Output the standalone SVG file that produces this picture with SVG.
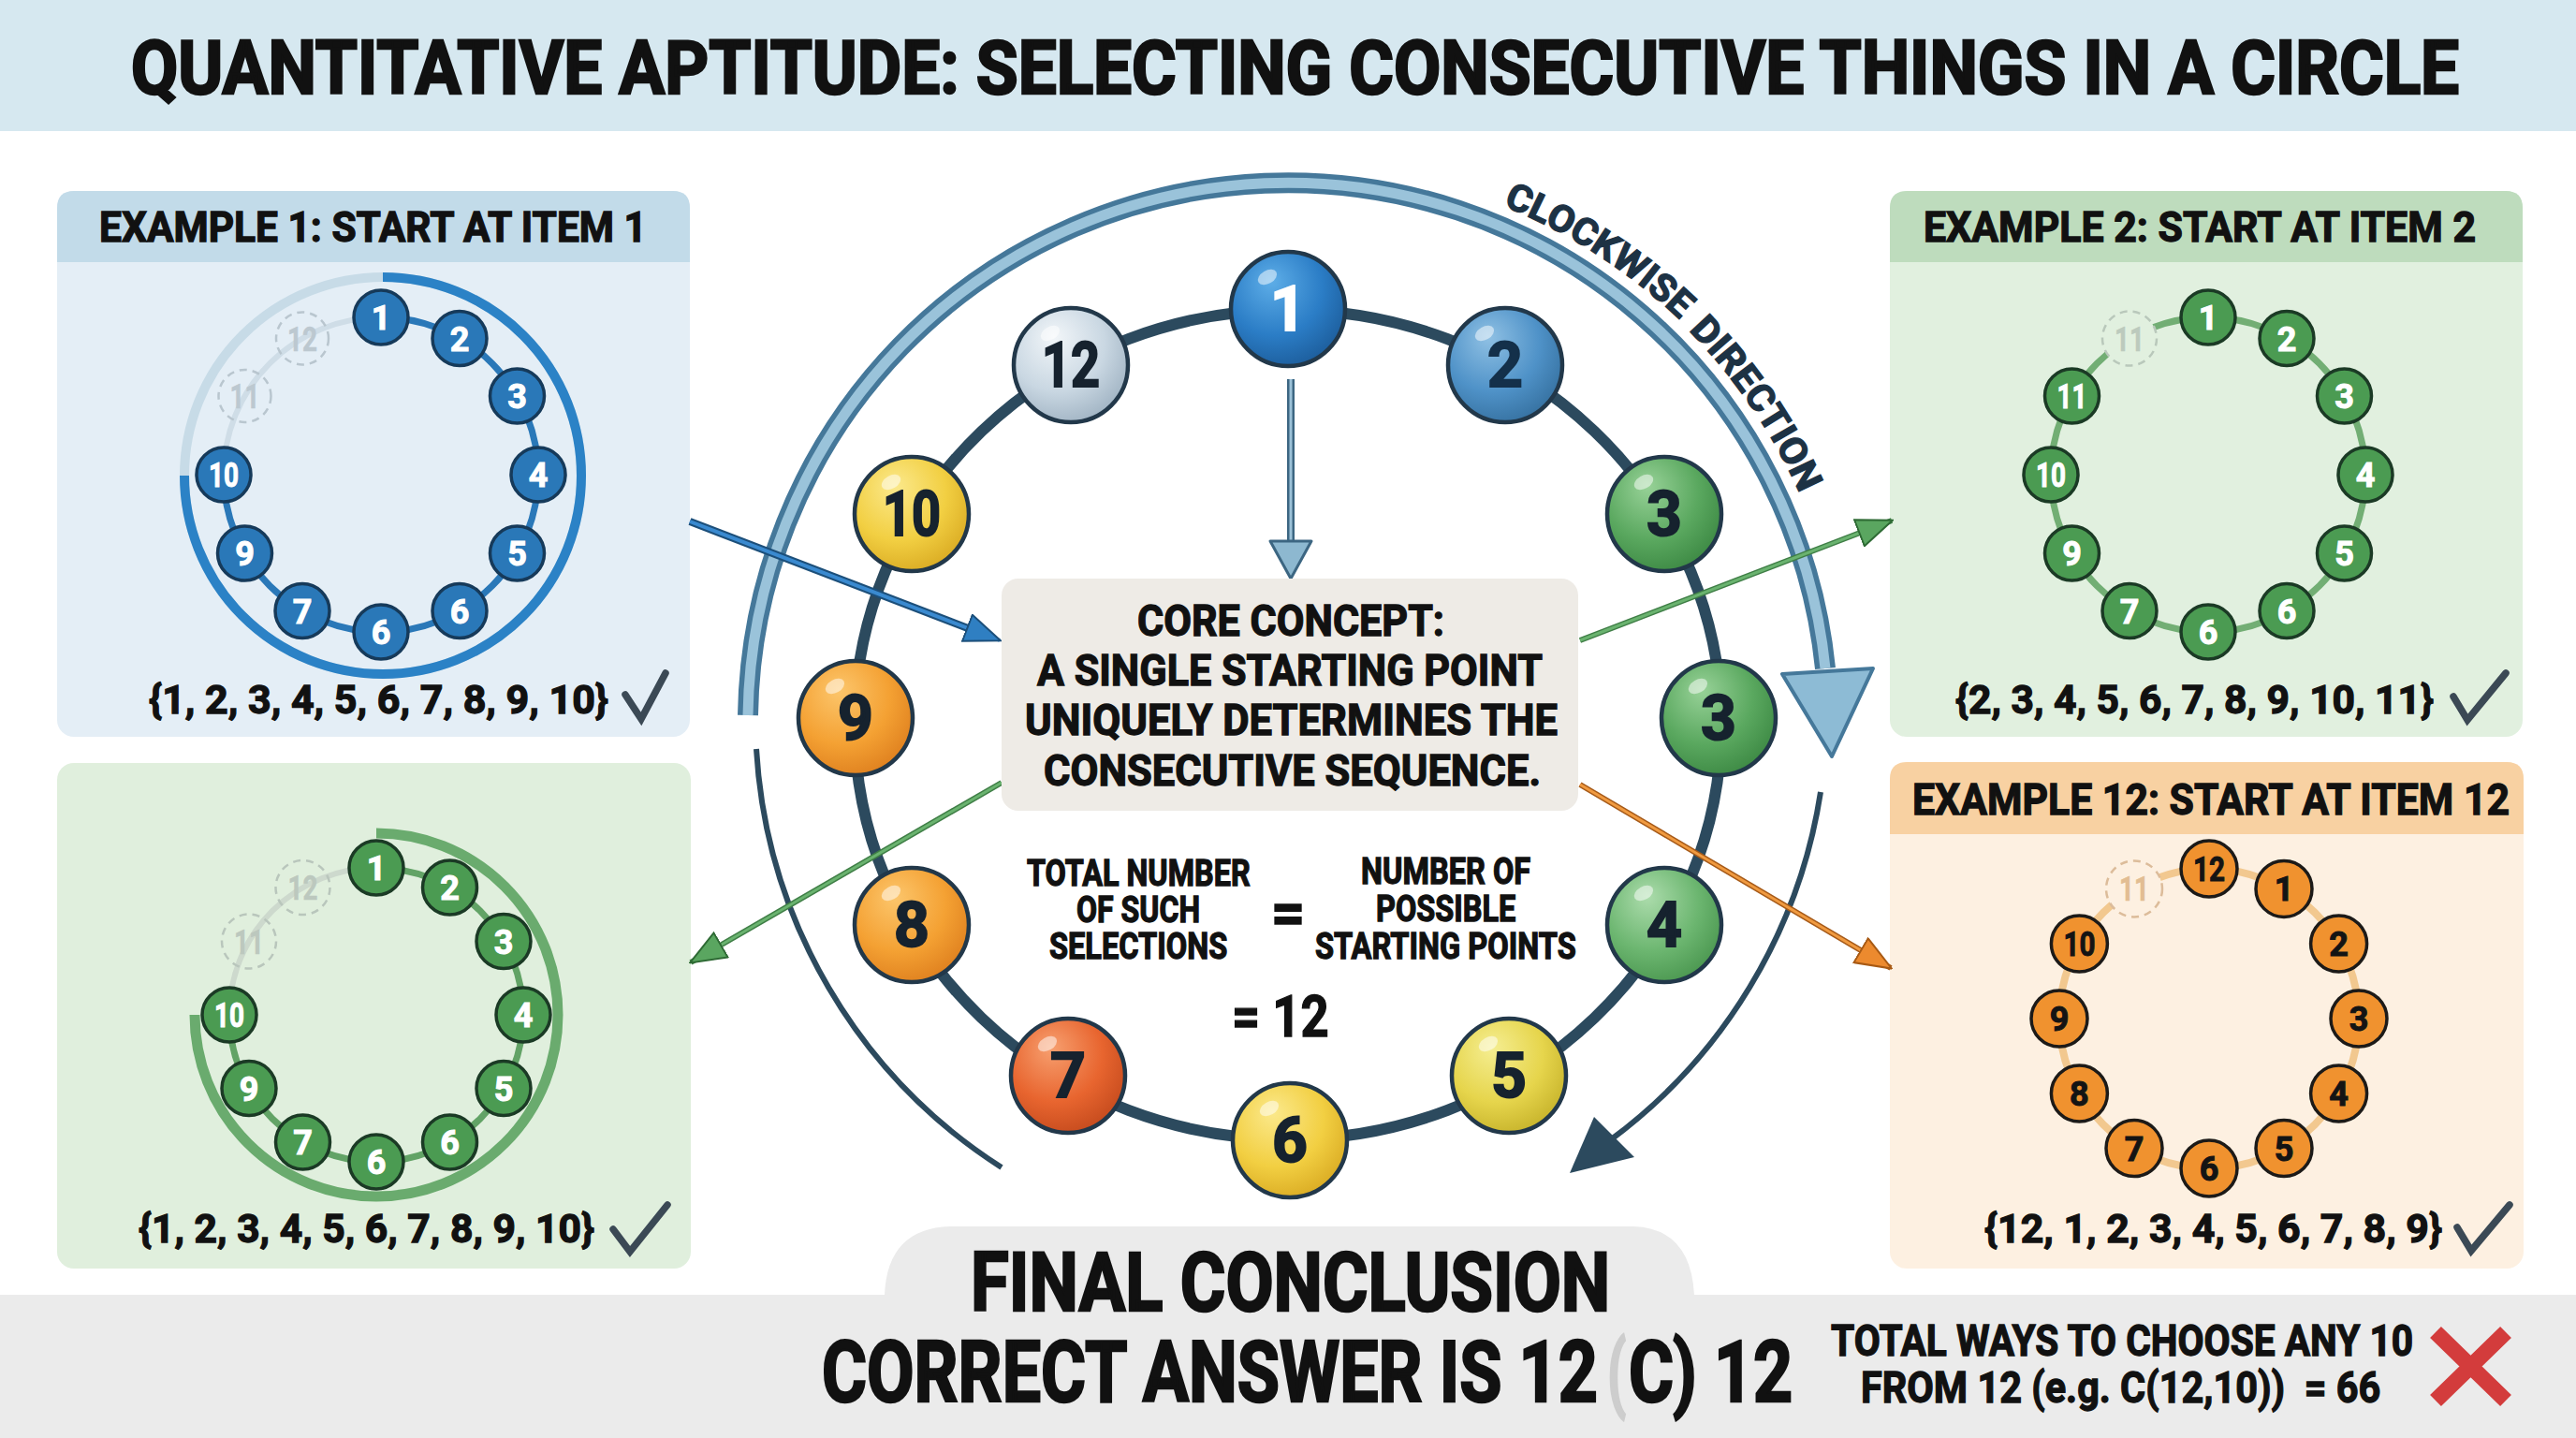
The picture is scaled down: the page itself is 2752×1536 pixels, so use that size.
<svg xmlns="http://www.w3.org/2000/svg" width="2752" height="1536" viewBox="0 0 2752 1536">
<style>
.t{font-family:Roboto,"Liberation Sans","DejaVu Sans",sans-serif;font-weight:700;color:#111;fill:currentColor;stroke:currentColor;stroke-width:1.3px}
.big{stroke-width:2.6px}
.num{font-family:Roboto,"Liberation Sans",sans-serif;font-weight:700;text-anchor:middle;fill:currentColor;stroke:currentColor;stroke-width:1px}
.cn circle.b{stroke:#22384a;stroke-width:4.5}
.cn text{font-size:66px;color:#16222e;stroke-width:2px}
.hl{fill:#fff;opacity:.5}
.mb circle{fill:#2a78b8;stroke:#163a5a;stroke-width:3.5}
.mb text{font-size:36px;color:#fff}
.mg circle{fill:#4b9b52;stroke:#1b3a25;stroke-width:3.5}
.mg text{font-size:36px;color:#fff}
.mo circle{fill:#f0922f;stroke:#1c1a18;stroke-width:3.5}
.mo text{font-size:36px;color:#141414}
.dash circle{fill:none;stroke-width:2.5;stroke-dasharray:8 6}
.dash text{font-size:36px;stroke-width:0.5px}
.chk{fill:none;stroke:#3b4955;stroke-width:7.5;stroke-linejoin:miter;stroke-linecap:round}
</style>
<defs>
<radialGradient id="gBlue1" cx="0.4" cy="0.35" r="0.7" fx="0.35" fy="0.25"><stop offset="0" stop-color="#5eaee8"/><stop offset="0.6" stop-color="#2b7dc6"/><stop offset="1" stop-color="#1c5c9a"/></radialGradient>
<radialGradient id="gBlue2" cx="0.4" cy="0.35" r="0.7" fx="0.35" fy="0.25"><stop offset="0" stop-color="#90c1e4"/><stop offset="0.6" stop-color="#4f92c8"/><stop offset="1" stop-color="#35709f"/></radialGradient>
<radialGradient id="gGray" cx="0.4" cy="0.35" r="0.7" fx="0.35" fy="0.25"><stop offset="0" stop-color="#f2f6f9"/><stop offset="0.6" stop-color="#c9d7e2"/><stop offset="1" stop-color="#9fb2c2"/></radialGradient>
<radialGradient id="gYel" cx="0.4" cy="0.35" r="0.7" fx="0.35" fy="0.25"><stop offset="0" stop-color="#fbe98c"/><stop offset="0.6" stop-color="#f2cf42"/><stop offset="1" stop-color="#d9aa22"/></radialGradient>
<radialGradient id="gYel5" cx="0.4" cy="0.35" r="0.7" fx="0.35" fy="0.25"><stop offset="0" stop-color="#f5ee92"/><stop offset="0.6" stop-color="#e6d54c"/><stop offset="1" stop-color="#c6b22a"/></radialGradient>
<radialGradient id="gOr" cx="0.4" cy="0.35" r="0.7" fx="0.35" fy="0.25"><stop offset="0" stop-color="#fcc66c"/><stop offset="0.6" stop-color="#f4a133"/><stop offset="1" stop-color="#de7f1e"/></radialGradient>
<radialGradient id="gRed" cx="0.4" cy="0.35" r="0.7" fx="0.35" fy="0.25"><stop offset="0" stop-color="#f7a070"/><stop offset="0.6" stop-color="#e8652f"/><stop offset="1" stop-color="#c44a1d"/></radialGradient>
<radialGradient id="gGrn" cx="0.4" cy="0.35" r="0.7" fx="0.35" fy="0.25"><stop offset="0" stop-color="#98d298"/><stop offset="0.6" stop-color="#5aa85f"/><stop offset="1" stop-color="#3c8843"/></radialGradient>
<radialGradient id="gGrn2" cx="0.4" cy="0.35" r="0.7" fx="0.35" fy="0.25"><stop offset="0" stop-color="#acdcac"/><stop offset="0.6" stop-color="#6cb670"/><stop offset="1" stop-color="#4a964f"/></radialGradient>
<marker id="mBlue" viewBox="0 0 40 32" refX="38" refY="16" markerWidth="40" markerHeight="32" markerUnits="userSpaceOnUse" orient="auto"><path d="M1,1 L39,16 L1,31 z" fill="#2f7fc2" stroke="#1c4f7a" stroke-width="2"/></marker>
<marker id="mGreen" viewBox="0 0 40 32" refX="38" refY="16" markerWidth="40" markerHeight="32" markerUnits="userSpaceOnUse" orient="auto"><path d="M1,1 L39,16 L1,31 z" fill="#5aa660" stroke="#2e6a34" stroke-width="2"/></marker>
<marker id="mOrange" viewBox="0 0 40 32" refX="38" refY="16" markerWidth="40" markerHeight="32" markerUnits="userSpaceOnUse" orient="auto"><path d="M1,1 L39,16 L1,31 z" fill="#ec8a2e" stroke="#a85a14" stroke-width="2"/></marker>
<path id="cwPath1" d="M1605.6,219.7 A600 600 0 0 1 1800,347"/>
<path id="cwPath2" d="M1804,353 A600 600 0 0 1 1924,530"/>
</defs>

<rect width="2752" height="1536" fill="#ffffff"/>

<!-- header -->
<g id="title">
<rect x="0" y="0" width="2752" height="140" fill="#d6e8f0"/>
<text class="t big" transform="translate(140,100) scale(0.85,1)" x="0" y="0" font-size="80" textLength="2926" lengthAdjust="spacingAndGlyphs">QUANTITATIVE APTITUDE: SELECTING CONSECUTIVE THINGS IN A CIRCLE</text>
</g>

<!-- bottom band -->
<g id="conclusion">
<path d="M0,1383 H945 Q948,1312 1015,1310 H1745 Q1806,1312 1810,1383 H2752 V1536 H0 Z" fill="#ebebeb"/>
<text class="t big" transform="translate(1037,1400) scale(0.8,1)" font-size="88" textLength="854" lengthAdjust="spacingAndGlyphs">FINAL CONCLUSION</text>
<text class="t big" transform="translate(878,1497) scale(0.8,1)" font-size="90" textLength="1036" lengthAdjust="spacingAndGlyphs">CORRECT ANSWER IS 12</text>
<text class="t big" transform="translate(1717,1497) scale(0.7,1)" font-size="90" textLength="29" lengthAdjust="spacingAndGlyphs" style="color:#cdcdcd">(</text>
<text class="t big" transform="translate(1740,1497) scale(0.8,1)" font-size="90" textLength="219" lengthAdjust="spacingAndGlyphs">C) 12</text>
</g>
<g id="wrong-method">
<text class="t" transform="translate(1956,1448) scale(0.85,1)" font-size="46" textLength="732" lengthAdjust="spacingAndGlyphs">TOTAL WAYS TO CHOOSE ANY 10</text>
<text class="t" transform="translate(1988,1498) scale(0.9,1)" font-size="46" textLength="617" lengthAdjust="spacingAndGlyphs">FROM 12 (e.g. C(12,10))&#160; = 66</text>
<path d="M2602,1423 L2677,1496 M2677,1423 L2602,1496" stroke="#d33c3c" stroke-width="17" stroke-linecap="butt"/>
</g>

<!-- Example 1 panel -->
<g id="example1">
<rect x="61" y="204" width="676" height="583" rx="18" fill="#e4eef6"/>
<path d="M61,280 V222 Q61,204 79,204 H719 Q737,204 737,222 V280 Z" fill="#c2dbe9"/>
<text class="t" x="106" y="258" font-size="44" textLength="585" lengthAdjust="spacingAndGlyphs">EXAMPLE 1: START AT ITEM 1</text>
<circle cx="409" cy="508" r="212" fill="none" stroke="#c7dbe7" stroke-width="10"/>
<path d="M409,296 A212 212 0 1 1 197,508" fill="none" stroke="#2b82c6" stroke-width="10"/>
<circle cx="407" cy="507" r="168" fill="none" stroke="#cfdde7" stroke-width="6"/>
<path d="M407,339 A168 168 0 1 1 239,507" fill="none" stroke="#2a78b8" stroke-width="7"/>
<g class="dash"><circle cx="261.5" cy="423" r="28" stroke="#b9c6cf"/><text class="num" x="261.5" y="436" style="color:#bcc8d0" textLength="32" lengthAdjust="spacingAndGlyphs">11</text></g>
<g class="dash"><circle cx="323" cy="361.5" r="28" stroke="#b9c6cf"/><text class="num" x="323" y="374.5" style="color:#bcc8d0" textLength="32" lengthAdjust="spacingAndGlyphs">12</text></g>
<g class="mb"><circle cx="407" cy="339" r="29"/><text class="num" x="407" y="352">1</text></g>
<g class="mb"><circle cx="491" cy="361.5" r="29"/><text class="num" x="491" y="374.5">2</text></g>
<g class="mb"><circle cx="552.5" cy="423" r="29"/><text class="num" x="552.5" y="436">3</text></g>
<g class="mb"><circle cx="575" cy="507" r="29"/><text class="num" x="575" y="520">4</text></g>
<g class="mb"><circle cx="552.5" cy="591" r="29"/><text class="num" x="552.5" y="604">5</text></g>
<g class="mb"><circle cx="491" cy="652.5" r="29"/><text class="num" x="491" y="665.5">6</text></g>
<g class="mb"><circle cx="407" cy="675" r="29"/><text class="num" x="407" y="688">6</text></g>
<g class="mb"><circle cx="323" cy="652.5" r="29"/><text class="num" x="323" y="665.5">7</text></g>
<g class="mb"><circle cx="261.5" cy="591" r="29"/><text class="num" x="261.5" y="604">9</text></g>
<g class="mb"><circle cx="239" cy="507" r="29"/><text class="num" x="239" y="520" textLength="32" lengthAdjust="spacingAndGlyphs">10</text></g>
<text class="t" x="159" y="762" font-size="43" textLength="491" lengthAdjust="spacingAndGlyphs">{1, 2, 3, 4, 5, 6, 7, 8, 9, 10}</text>
<path class="chk" d="M668,742 L685,768 L711,719"/>
</g>

<!-- Bottom-left green panel -->
<g id="example-left-bottom">
<rect x="61" y="815" width="677" height="540" rx="18" fill="#e0efdd"/>
<path d="M402,890 A194 194 0 1 1 208,1084" fill="none" stroke="#6aab6e" stroke-width="11"/>
<circle cx="402" cy="1084" r="157" fill="none" stroke="#cdd9cd" stroke-width="6"/>
<path d="M402,927 A157 157 0 1 1 245,1084" fill="none" stroke="#62a366" stroke-width="7"/>
<g class="dash"><circle cx="266" cy="1005.5" r="29" stroke="#b9c6bc"/><text class="num" x="266" y="1018.5" style="color:#bcc8be" textLength="32" lengthAdjust="spacingAndGlyphs">11</text></g>
<g class="dash"><circle cx="323.5" cy="948" r="29" stroke="#b9c6bc"/><text class="num" x="323.5" y="961" style="color:#bcc8be" textLength="32" lengthAdjust="spacingAndGlyphs">12</text></g>
<g class="mg"><circle cx="402" cy="927" r="29"/><text class="num" x="402" y="940">1</text></g>
<g class="mg"><circle cx="480.5" cy="948" r="29"/><text class="num" x="480.5" y="961">2</text></g>
<g class="mg"><circle cx="538" cy="1005.5" r="29"/><text class="num" x="538" y="1018.5">3</text></g>
<g class="mg"><circle cx="559" cy="1084" r="29"/><text class="num" x="559" y="1097">4</text></g>
<g class="mg"><circle cx="538" cy="1162.5" r="29"/><text class="num" x="538" y="1175.5">5</text></g>
<g class="mg"><circle cx="480.5" cy="1220" r="29"/><text class="num" x="480.5" y="1233">6</text></g>
<g class="mg"><circle cx="402" cy="1241" r="29"/><text class="num" x="402" y="1254">6</text></g>
<g class="mg"><circle cx="323.5" cy="1220" r="29"/><text class="num" x="323.5" y="1233">7</text></g>
<g class="mg"><circle cx="266" cy="1162.5" r="29"/><text class="num" x="266" y="1175.5">9</text></g>
<g class="mg"><circle cx="245" cy="1084" r="29"/><text class="num" x="245" y="1097" textLength="32" lengthAdjust="spacingAndGlyphs">10</text></g>
<text class="t" x="148" y="1327" font-size="43" textLength="487" lengthAdjust="spacingAndGlyphs">{1, 2, 3, 4, 5, 6, 7, 8, 9, 10}</text>
<path class="chk" d="M655,1313 L673,1337 L713,1287"/>
</g>

<!-- Example 2 panel -->
<g id="example2">
<rect x="2019" y="204" width="676" height="583" rx="18" fill="#e1f0df"/>
<path d="M2019,280 V222 Q2019,204 2037,204 H2677 Q2695,204 2695,222 V280 Z" fill="#bedcbd"/>
<text class="t" x="2055" y="258" font-size="44" textLength="590" lengthAdjust="spacingAndGlyphs">EXAMPLE 2: START AT ITEM 2</text>
<circle cx="2359" cy="507" r="168" fill="none" stroke="#72ae74" stroke-width="7"/>
<g class="dash"><circle cx="2275" cy="361.5" r="29" stroke="#b9c8bb" style="fill:#e1f0df"/><text class="num" x="2275" y="374.5" style="color:#bccabd" textLength="32" lengthAdjust="spacingAndGlyphs">11</text></g>
<g class="mg"><circle cx="2359" cy="339" r="29"/><text class="num" x="2359" y="352">1</text></g>
<g class="mg"><circle cx="2443" cy="361.5" r="29"/><text class="num" x="2443" y="374.5">2</text></g>
<g class="mg"><circle cx="2504.5" cy="423" r="29"/><text class="num" x="2504.5" y="436">3</text></g>
<g class="mg"><circle cx="2527" cy="507" r="29"/><text class="num" x="2527" y="520">4</text></g>
<g class="mg"><circle cx="2504.5" cy="591" r="29"/><text class="num" x="2504.5" y="604">5</text></g>
<g class="mg"><circle cx="2443" cy="652.5" r="29"/><text class="num" x="2443" y="665.5">6</text></g>
<g class="mg"><circle cx="2359" cy="675" r="29"/><text class="num" x="2359" y="688">6</text></g>
<g class="mg"><circle cx="2275" cy="652.5" r="29"/><text class="num" x="2275" y="665.5">7</text></g>
<g class="mg"><circle cx="2213.5" cy="591" r="29"/><text class="num" x="2213.5" y="604">9</text></g>
<g class="mg"><circle cx="2191" cy="507" r="29"/><text class="num" x="2191" y="520" textLength="32" lengthAdjust="spacingAndGlyphs">10</text></g>
<g class="mg"><circle cx="2213.5" cy="423" r="29"/><text class="num" x="2213.5" y="436" textLength="32" lengthAdjust="spacingAndGlyphs">11</text></g>
<text class="t" x="2089" y="762" font-size="43" textLength="511" lengthAdjust="spacingAndGlyphs">{2, 3, 4, 5, 6, 7, 8, 9, 10, 11}</text>
<path class="chk" d="M2621,744 L2636,769 L2677,719"/>
</g>

<!-- Example 12 panel -->
<g id="example12">
<rect x="2019" y="814" width="677" height="541" rx="18" fill="#fdf0e1"/>
<path d="M2019,891 V832 Q2019,814 2037,814 H2678 Q2696,814 2696,832 V891 Z" fill="#f8d1a2"/>
<text class="t" x="2043" y="870" font-size="46" textLength="638" lengthAdjust="spacingAndGlyphs">EXAMPLE 12: START AT ITEM 12</text>
<circle cx="2360" cy="1088" r="160" fill="none" stroke="#f2c88f" stroke-width="8"/>
<g class="dash"><circle cx="2280" cy="949.4" r="30" stroke="#dcbc9a" style="fill:#fdf0e1"/><text class="num" x="2280" y="962.4" style="color:#e2bd92" textLength="32" lengthAdjust="spacingAndGlyphs">11</text></g>
<g class="mo"><circle cx="2360" cy="928" r="30"/><text class="num" x="2360" y="941" textLength="34" lengthAdjust="spacingAndGlyphs">12</text></g>
<g class="mo"><circle cx="2440" cy="949.4" r="30"/><text class="num" x="2440" y="962.4">1</text></g>
<g class="mo"><circle cx="2498.6" cy="1008" r="30"/><text class="num" x="2498.6" y="1021">2</text></g>
<g class="mo"><circle cx="2520" cy="1088" r="30"/><text class="num" x="2520" y="1101">3</text></g>
<g class="mo"><circle cx="2498.6" cy="1168" r="30"/><text class="num" x="2498.6" y="1181">4</text></g>
<g class="mo"><circle cx="2440" cy="1226.6" r="30"/><text class="num" x="2440" y="1239.6">5</text></g>
<g class="mo"><circle cx="2360" cy="1248" r="30"/><text class="num" x="2360" y="1261">6</text></g>
<g class="mo"><circle cx="2280" cy="1226.6" r="30"/><text class="num" x="2280" y="1239.6">7</text></g>
<g class="mo"><circle cx="2221.4" cy="1168" r="30"/><text class="num" x="2221.4" y="1181">8</text></g>
<g class="mo"><circle cx="2200" cy="1088" r="30"/><text class="num" x="2200" y="1101">9</text></g>
<g class="mo"><circle cx="2221.4" cy="1008" r="30"/><text class="num" x="2221.4" y="1021" textLength="34" lengthAdjust="spacingAndGlyphs">10</text></g>
<text class="t" x="2120" y="1327" font-size="43" textLength="489" lengthAdjust="spacingAndGlyphs">{12, 1, 2, 3, 4, 5, 6, 7, 8, 9}</text>
<path class="chk" d="M2625,1311 L2640,1336 L2681,1287"/>
</g>

<!-- central circle: direction arcs -->
<g id="direction">
<path d="M799,764 A577 577 0 0 1 1950,714" fill="none" stroke="#45789a" stroke-width="22"/>
<path d="M799,764 A577 577 0 0 1 1950,714" fill="none" stroke="#9ac3da" stroke-width="11"/>
<polygon points="1904,720 2001,714 1957,808" fill="#8dbbd5" stroke="#45789a" stroke-width="4" stroke-linejoin="round"/>
<path d="M808,800 A570 570 0 0 0 1070,1247" fill="none" stroke="#2c4a5e" stroke-width="6"/>
<path d="M1945,846 A570 570 0 0 1 1720,1218" fill="none" stroke="#2c4a5e" stroke-width="6"/>
<polygon points="1677,1253 1703,1193 1746,1236" fill="#2c4a5e"/>
<text class="t" font-size="40" style="color:#1d3244"><textPath href="#cwPath1" textLength="226" lengthAdjust="spacingAndGlyphs">CLOCKWISE</textPath></text>
<text class="t" font-size="40" style="color:#1d3244"><textPath href="#cwPath2" textLength="212" lengthAdjust="spacingAndGlyphs">DIRECTION</textPath></text>
</g>

<!-- main ring -->
<ellipse cx="1376" cy="774" rx="463" ry="443" fill="none" stroke="#2c4a5e" stroke-width="12"/>

<!-- connectors -->
<g id="connectors">
<line x1="1379" y1="405" x2="1379" y2="582" stroke="#3c6682" stroke-width="8"/>
<line x1="1379" y1="405" x2="1379" y2="582" stroke="#9cc2d8" stroke-width="3"/>
<polygon points="1357,578 1401,578 1379,618" fill="#8db8d0" stroke="#3c6682" stroke-width="3" stroke-linejoin="round"/>
<line x1="737" y1="557" x2="1060" y2="681" stroke="#1c4f7a" stroke-width="8"/>
<line x1="737" y1="557" x2="1068" y2="684" stroke="#3a8ad0" stroke-width="4" marker-end="url(#mBlue)"/>
<line x1="1688" y1="684" x2="2021" y2="556" stroke="#3f7e46" stroke-width="6"/>
<line x1="1688" y1="684" x2="2021" y2="556" stroke="#6ab36f" stroke-width="3" marker-end="url(#mGreen)"/>
<line x1="1070" y1="836" x2="738" y2="1028" stroke="#3f7e46" stroke-width="6"/>
<line x1="1070" y1="836" x2="738" y2="1028" stroke="#6ab36f" stroke-width="3" marker-end="url(#mGreen)"/>
<line x1="1688" y1="838" x2="2020" y2="1034" stroke="#a65a18" stroke-width="6"/>
<line x1="1688" y1="838" x2="2020" y2="1034" stroke="#f09a40" stroke-width="3" marker-end="url(#mOrange)"/>
</g>

<!-- central nodes -->
<g id="node-1" class="cn"><circle class="b" cx="1376" cy="330" r="61" fill="url(#gBlue1)"/><ellipse class="hl" cx="1354" cy="296" rx="11" ry="7" transform="rotate(-30 1354 296)"/><text class="num" x="1376" y="353" style="color:#ffffff">1</text></g>
<g id="node-2" class="cn"><circle class="b" cx="1608" cy="390" r="61" fill="url(#gBlue2)"/><ellipse class="hl" cx="1586" cy="356" rx="11" ry="7" transform="rotate(-30 1586 356)"/><text class="num" x="1608" y="413" style="color:#14304a">2</text></g>
<g id="node-12" class="cn"><circle class="b" cx="1144" cy="390" r="61" fill="url(#gGray)"/><ellipse class="hl" cx="1122" cy="356" rx="11" ry="7" transform="rotate(-30 1122 356)"/><text class="num" x="1144" y="413" textLength="62" lengthAdjust="spacingAndGlyphs">12</text></g>
<g id="node-3a" class="cn"><circle class="b" cx="1778" cy="549" r="61" fill="url(#gGrn)"/><ellipse class="hl" cx="1756" cy="515" rx="11" ry="7" transform="rotate(-30 1756 515)"/><text class="num" x="1778" y="572">3</text></g>
<g id="node-10" class="cn"><circle class="b" cx="974" cy="549" r="61" fill="url(#gYel)"/><ellipse class="hl" cx="952" cy="515" rx="11" ry="7" transform="rotate(-30 952 515)"/><text class="num" x="974" y="572" textLength="62" lengthAdjust="spacingAndGlyphs">10</text></g>
<g id="node-3b" class="cn"><circle class="b" cx="1836" cy="767" r="61" fill="url(#gGrn)"/><ellipse class="hl" cx="1814" cy="733" rx="11" ry="7" transform="rotate(-30 1814 733)"/><text class="num" x="1836" y="790">3</text></g>
<g id="node-9" class="cn"><circle class="b" cx="914" cy="767" r="61" fill="url(#gOr)"/><ellipse class="hl" cx="892" cy="733" rx="11" ry="7" transform="rotate(-30 892 733)"/><text class="num" x="914" y="790">9</text></g>
<g id="node-4" class="cn"><circle class="b" cx="1778" cy="988" r="61" fill="url(#gGrn2)"/><ellipse class="hl" cx="1756" cy="954" rx="11" ry="7" transform="rotate(-30 1756 954)"/><text class="num" x="1778" y="1011">4</text></g>
<g id="node-8" class="cn"><circle class="b" cx="974" cy="988" r="61" fill="url(#gOr)"/><ellipse class="hl" cx="952" cy="954" rx="11" ry="7" transform="rotate(-30 952 954)"/><text class="num" x="974" y="1011">8</text></g>
<g id="node-5" class="cn"><circle class="b" cx="1612" cy="1149" r="61" fill="url(#gYel5)"/><ellipse class="hl" cx="1590" cy="1115" rx="11" ry="7" transform="rotate(-30 1590 1115)"/><text class="num" x="1612" y="1172">5</text></g>
<g id="node-7" class="cn"><circle class="b" cx="1141" cy="1149" r="61" fill="url(#gRed)"/><ellipse class="hl" cx="1119" cy="1115" rx="11" ry="7" transform="rotate(-30 1119 1115)"/><text class="num" x="1141" y="1172">7</text></g>
<g id="node-6" class="cn"><circle class="b" cx="1378" cy="1218" r="61" fill="url(#gYel)"/><ellipse class="hl" cx="1356" cy="1184" rx="11" ry="7" transform="rotate(-30 1356 1184)"/><text class="num" x="1378" y="1241">6</text></g>

<!-- core concept -->
<g id="core-concept">
<rect x="1070" y="618" width="616" height="248" rx="18" fill="#eeebe6"/>
<text class="t" x="1215" y="679" font-size="46" textLength="328" lengthAdjust="spacingAndGlyphs">CORE CONCEPT:</text>
<text class="t" x="1108" y="732" font-size="46" textLength="540" lengthAdjust="spacingAndGlyphs">A SINGLE STARTING POINT</text>
<text class="t" x="1095" y="785" font-size="46" textLength="569" lengthAdjust="spacingAndGlyphs">UNIQUELY DETERMINES THE</text>
<text class="t" x="1115" y="839" font-size="46" textLength="531" lengthAdjust="spacingAndGlyphs">CONSECUTIVE SEQUENCE.</text>
</g>

<!-- equation -->
<g id="equation">
<text class="t" transform="translate(1097,946) scale(0.82,1)" font-size="38" textLength="291" lengthAdjust="spacingAndGlyphs">TOTAL NUMBER</text>
<text class="t" transform="translate(1150,985) scale(0.82,1)" font-size="38" textLength="161" lengthAdjust="spacingAndGlyphs">OF SUCH</text>
<text class="t" transform="translate(1121,1024) scale(0.82,1)" font-size="38" textLength="232" lengthAdjust="spacingAndGlyphs">SELECTIONS</text>
<text class="t" x="1376" y="997" font-size="64" text-anchor="middle">=</text>
<text class="t" transform="translate(1454,944) scale(0.82,1)" font-size="38" textLength="221" lengthAdjust="spacingAndGlyphs">NUMBER OF</text>
<text class="t" transform="translate(1470,984) scale(0.82,1)" font-size="38" textLength="182" lengthAdjust="spacingAndGlyphs">POSSIBLE</text>
<text class="t" transform="translate(1405,1024) scale(0.82,1)" font-size="38" textLength="340" lengthAdjust="spacingAndGlyphs">STARTING POINTS</text>
<text class="t" transform="translate(1316,1107) scale(0.85,1)" font-size="62" textLength="122" lengthAdjust="spacingAndGlyphs">= 12</text>
</g>
</svg>
